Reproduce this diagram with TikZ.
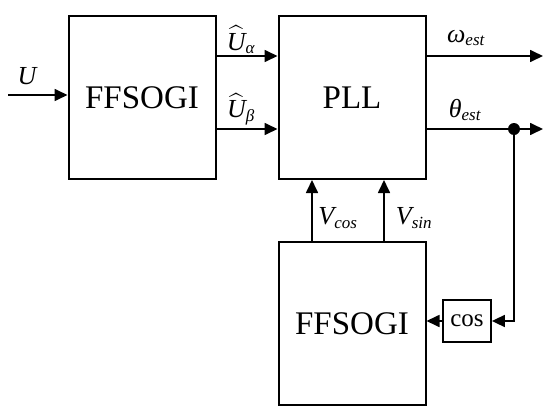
\documentclass[tikz,border=0pt]{standalone}
\usepackage{fontspec}
\usepackage{amsmath}
\setmainfont{Liberation Serif}
\usetikzlibrary{arrows.meta}
\newcommand{\sublbl}[1]{\text{\fontsize{17}{17}\selectfont\itshape #1}}

\begin{document}
\begin{tikzpicture}[yscale=-1
                ,blkstyle/.style={draw=black,fill=white,line width=2pt,inner sep=0pt,minimum width=147pt,minimum height=163pt,font=\fontsize{33}{33}\selectfont}
                ,smallblk/.style={draw=black,fill=white,line width=1.8pt,inner sep=0pt,minimum width=48pt,minimum height=42pt,font=\fontsize{25}{25}\selectfont}
                ,sigstyle/.style={draw=black,line width=1.7pt,-{Triangle[length=13pt,width=12pt]}}
                ,lblstyle/.style={inner sep=0pt,font=\fontsize{26}{26}\selectfont}
            ]
            \useasboundingbox (0pt,0pt) rectangle (550pt,418pt);
            % blocks
            \node[blkstyle] (sogiA) at (142pt,97.5pt) {FFSOGI};
            \node[blkstyle] (pll) at (352pt,97.5pt) {PLL};
            \node[blkstyle] (sogiB) at (352pt,323.5pt) {FFSOGI};
            \node[smallblk] (cosblk) at (467pt,321pt) {cos};
            % helper points
            \coordinate (uin) at (8pt,95pt);
            \coordinate (ya) at (0pt,56pt);
            \coordinate (yb) at (0pt,129pt);
            \coordinate (wout) at (543pt,56pt);
            \coordinate (tout) at (543pt,129pt);
            \coordinate (tap) at (514pt,129pt);
            \coordinate (xc) at (312pt,0pt);
            \coordinate (xs) at (384pt,0pt);
            % signals
            \draw[sigstyle] (uin) -- (uin -| sogiA.west);
            \draw[sigstyle] (sogiA.east |- ya) -- (pll.west |- ya);
            \draw[sigstyle] (sogiA.east |- yb) -- (pll.west |- yb);
            \draw[sigstyle] (pll.east |- ya) -- (wout);
            \draw[sigstyle] (pll.east |- yb) -- (tout);
            \fill (tap) circle (6pt);
            \draw[sigstyle] (tap) |- (cosblk.east);
            \draw[sigstyle] (cosblk.west) -- (cosblk.west -| sogiB.east);
            \draw[sigstyle] (sogiB.north -| xc) -- (pll.south -| xc);
            \draw[sigstyle] (sogiB.north -| xs) -- (pll.south -| xs);
            % labels
            \node[lblstyle] (lblU) at (27pt,76pt) {$\text{\itshape U}$};
            \node[lblstyle] (lblUa) at (241pt,40pt) {$\widehat{\text{\itshape U}}_{\sublbl{α}}$};
            \node[lblstyle] (lblUb) at (241pt,109pt) {$\widehat{\text{\itshape U}}_{\sublbl{β}}$};
            \node[lblstyle] (lblw) at (466pt,38pt) {$\text{\itshape ω}_{\sublbl{est}}$};
            \node[lblstyle] (lblt) at (465pt,110pt) {$\text{\itshape θ}_{\sublbl{est}}$};
            \node[lblstyle] (lblvc) at (338pt,218pt) {$\text{\itshape V}_{\sublbl{cos}}$};
            \node[lblstyle] (lblvs) at (414pt,218pt) {$\text{\itshape V}_{\sublbl{sin}}$};
        \end{tikzpicture}
\end{document}
